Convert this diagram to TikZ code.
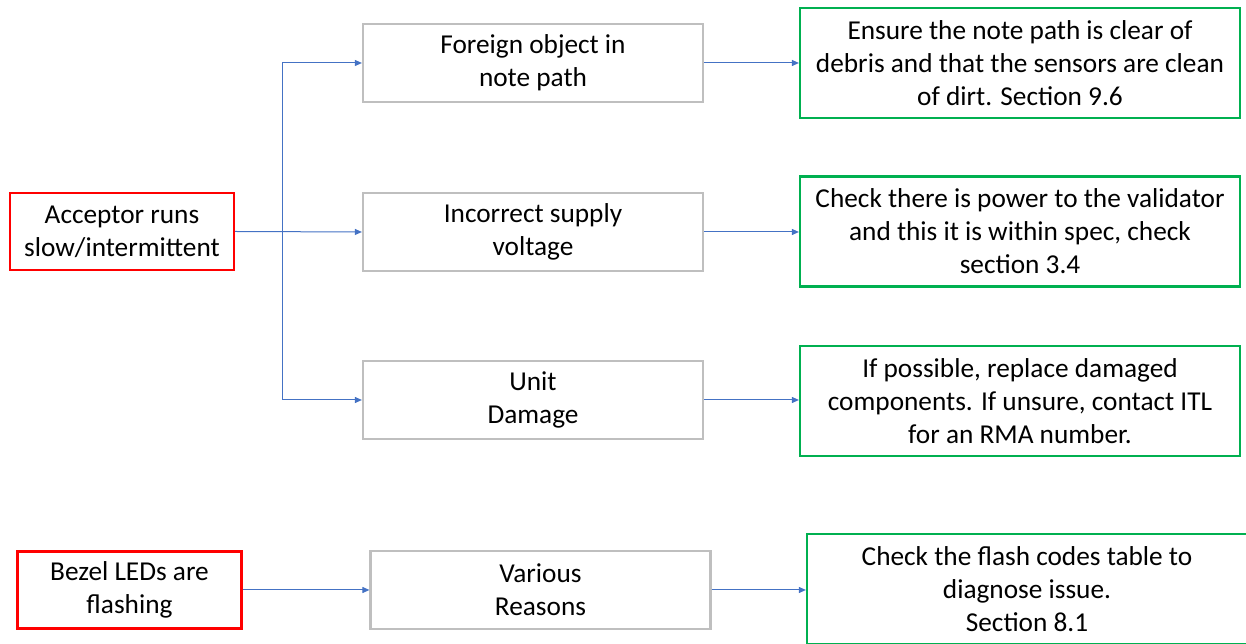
\documentclass[tikz,border=0pt]{standalone}
\usepackage{fontspec}
\setmainfont{Carlito}
\usepackage{xcolor}
\usetikzlibrary{positioning, arrows.meta, calc}

\definecolor{causered}{RGB}{255,0,0}
\definecolor{fixgreen}{RGB}{0,176,80}
\definecolor{reasongray}{RGB}{191,191,191}
\definecolor{linkblue}{RGB}{68,114,196}

\begin{document}
\begin{tikzpicture}[x=1pt, y=1pt, >={Triangle[length=7pt, width=6pt]},
    every node/.style={font=\fontsize{27.3}{33}\selectfont, align=center, inner sep=0pt},
    causebox/.style={draw=causered, line width=2.2pt, minimum width=224pt, minimum height=77pt},
    reasonbox/.style={draw=reasongray, line width=2.2pt, minimum width=340pt, minimum height=78pt},
    fixbox/.style={draw=fixgreen, line width=2.2pt, minimum width=440pt, minimum height=110pt},
    link/.style={draw=linkblue, line width=1pt}]
        \useasboundingbox (0,0) rectangle (1246,644);
        \clip (0,0) rectangle (1246,644);

        % Causes
        \node (acceptor) [causebox] at (122,412.5) {Acceptor runs\\slow/intermittent};
        \node (bezel) [causebox] at (129.5,54) {Bezel LEDs are\\flashing};

        % Reasons
        \node (foreign) [reasonbox] at (533,581) {Foreign object in\\note path};
        \node (supply) [reasonbox] at (533,412) {Incorrect supply\\voltage};
        \node (damage) [reasonbox] at (533,244) {Unit\\Damage};
        \node (various) [reasonbox] at (540.5,54) {Various\\Reasons};

        % Fixes
        \node (fixforeign) [fixbox] at (1020,581) {Ensure the note path is clear of\\debris and that the sensors are clean\\of dirt. Section 9.6};
        \node (fixsupply) [fixbox] at (1020,412.5) {Check there is power to the validator\\and this it is within spec, check\\section 3.4};
        \node (fixdamage) [fixbox] at (1020,243) {If possible, replace damaged\\components. If unsure, contact ITL\\for an RMA number.};
        \node (fixvarious) [fixbox] at (1027,55) {Check the flash codes table to\\diagnose issue.\\Section 8.1};

        % Branch
        \coordinate (split) at (282,412);
        \draw [link] (split |- foreign.west) -- (split |- damage.west);
        \draw [link, ->] (acceptor.east) -- (supply.west);
        \draw [link, ->] (split |- foreign.west) -- (foreign.west);
        \draw [link, ->] (split |- damage.west) -- (damage.west);
        \draw [link, ->] (bezel.east) -- (various.west);

        % Reason to fix
        \draw [link, ->] (foreign.east) -- (fixforeign.west |- foreign.east);
        \draw [link, ->] (supply.east) -- (fixsupply.west |- supply.east);
        \draw [link, ->] (damage.east) -- (fixdamage.west |- damage.east);
        \draw [link, ->] (various.east) -- (fixvarious.west |- various.east);
    \end{tikzpicture}
\end{document}
